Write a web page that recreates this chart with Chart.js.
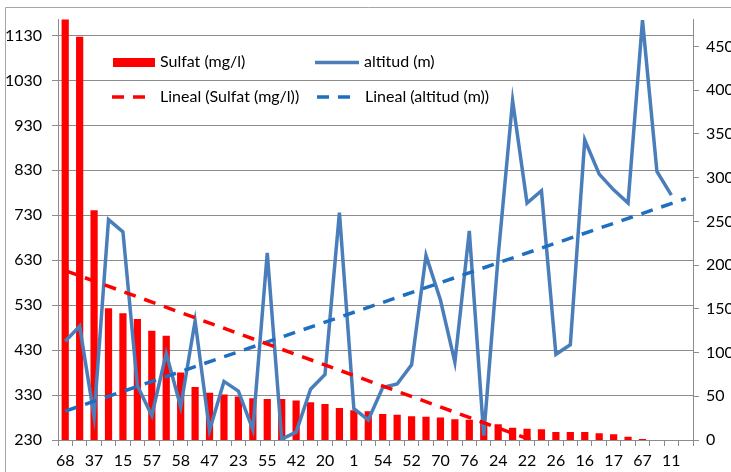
<!DOCTYPE html>
<html><head><meta charset="utf-8">
<script src="https://cdn.jsdelivr.net/npm/chart.js@4.4.1/dist/chart.umd.min.js"></script>
<style>html,body{margin:0;padding:0;background:#fff;overflow:hidden}#wrap{position:relative;width:731px;height:472px}</style>
</head><body><div id="wrap"><canvas id="c" width="731" height="472"></canvas></div>
<script>
// Category labels (only every other one is visible in the reference; hidden ones unknown)
const categories = ['68','','37','','15','','57','','58','','47','','23','','55','','42','','20','','1','',
                    '54','','52','','70','','76','','24','','22','','26','','16','','17','','67','','11',''];
const sulfat = [1175,1127,741,523,512,499,473,462,380,348,335,331,327,323,321,321,318,314,310,301,296,294,
                288,286,283,282,280,276,275,270,265,257,255,254,248,248,248,245,243,237,232,null,null,null];
const altitud = [113,130,27,252,238,62,28,99,38,136,11,67,56,12,214,1,9,58,75,260,36,23,
                 60,64,86,211,160,89,239,5,210,388,271,285,98,109,343,304,286,271,480,307,280,null];
const sulfatTrendEnds = [607, 105];
const altitudTrendEnds = [33, 276];
const leftTicks = [230,330,430,530,630,730,830,930,1030,1130];
const rightTicks = [0,50,100,150,200,250,300,350,400,450];
const seriesNames = ['Sulfat (mg/l)','altitud (m)','Lineal (Sulfat (mg/l))','Lineal (altitud (m))'];

function trend(ends, n){ const a = new Array(n).fill(null); a[0]=ends[0]; a[n-1]=ends[1]; return a; }

const RED='#FF0000', BLUE='#4A7EBB', TBLUE='#1F6FC0', GRID='#8C8C8C', AX='#8C8C8C';
const FONT='Lato, "Open Sans", sans-serif';
Chart.defaults.font.family = FONT;
Chart.defaults.font.size = 16;
Chart.defaults.color = '#000';

const frame = {
  id:'frame',
  beforeDraw(chart){
    const ctx=chart.ctx; ctx.save(); ctx.fillStyle='#fff'; ctx.fillRect(0,0,chart.width,chart.height);
    ctx.strokeStyle='#A6A6A6'; ctx.lineWidth=1; ctx.beginPath();
    ctx.moveTo(5.5,chart.height); ctx.lineTo(5.5,7.5); ctx.lineTo(chart.width,7.5); ctx.stroke(); ctx.restore();
  }
};
const legendBox = {
  id:'legendBox',
  afterDraw(chart){
    const ctx=chart.ctx; ctx.save();
    ctx.font='16px '+FONT; ctx.fillStyle='#000'; ctx.textBaseline='middle';
    // row 1
    ctx.fillStyle=RED; ctx.fillRect(113,58,42,9);
    ctx.fillStyle='#000'; ctx.fillText(seriesNames[0],160,62);
    ctx.strokeStyle=BLUE; ctx.lineWidth=3.5; ctx.beginPath(); ctx.moveTo(315,62.5); ctx.lineTo(359,62.5); ctx.stroke();
    ctx.fillText(seriesNames[1],364,62);
    // row 2
    ctx.setLineDash([12,9]); ctx.lineWidth=3.5;
    ctx.strokeStyle=RED; ctx.beginPath(); ctx.moveTo(112,97); ctx.lineTo(151,97); ctx.stroke();
    ctx.strokeStyle=TBLUE; ctx.beginPath(); ctx.moveTo(317,97); ctx.lineTo(355,97); ctx.stroke();
    ctx.setLineDash([]);
    ctx.fillText(seriesNames[2],160,97);
    ctx.fillText(seriesNames[3],365,97);
    ctx.restore();
  }
};

const n = categories.length;
new Chart(document.getElementById('c'), {
  type:'bar',
  data:{
    labels: categories,
    datasets:[
      {type:'line', label:seriesNames[2], data:trend(sulfatTrendEnds,n), yAxisID:'y', spanGaps:true,
       borderColor:RED, borderWidth:3.5, borderDash:[12,9], pointRadius:0, order:1},
      {type:'line', label:seriesNames[3], data:trend(altitudTrendEnds,n), yAxisID:'y2', spanGaps:true,
       borderColor:TBLUE, borderWidth:3.5, borderDash:[12,9], pointRadius:0, order:2},
      {type:'line', label:seriesNames[1], data:altitud, yAxisID:'y2', borderColor:BLUE, borderWidth:3.5,
       pointRadius:0, tension:0, borderJoinStyle:'miter', order:3},
      {type:'bar', label:seriesNames[0], data:sulfat, yAxisID:'y', backgroundColor:RED,
       barPercentage:0.5, categoryPercentage:1.0, order:4}
    ]
  },
  options:{
    responsive:false, animation:false, devicePixelRatio:1,
    layout:{padding:{top:17,left:0,right:0,bottom:0}},
    plugins:{legend:{display:false}, tooltip:{enabled:false}},
    scales:{
      x:{
        grid:{display:true, drawOnChartArea:false, drawTicks:true, tickLength:6, tickColor:AX, offset:true},
        border:{display:true, color:AX},
        ticks:{autoSkip:false, maxRotation:0, minRotation:0, padding:5, color:'#000'},
        afterFit(s){ s.height=32; }
      },
      y:{
        position:'left', min:230, max:1165.4,
        afterBuildTicks(s){ s.ticks = leftTicks.map(v=>({value:v})); },
        grid:{color:GRID, tickLength:6, tickColor:AX},
        border:{display:true, color:AX},
        ticks:{padding:10, color:'#000', callback:v=>String(v)},
        afterFit(s){ s.width=58; }
      },
      y2:{
        position:'right', min:0, max:480.7,
        afterBuildTicks(s){ s.ticks = rightTicks.map(v=>({value:v})); },
        grid:{drawOnChartArea:false, tickLength:6, tickColor:AX},
        border:{display:true, color:AX},
        ticks:{padding:7, color:'#000', callback:v=>String(v)},
        afterFit(s){ s.width=38; }
      }
    }
  },
  plugins:[frame, legendBox]
});
</script></body></html>
